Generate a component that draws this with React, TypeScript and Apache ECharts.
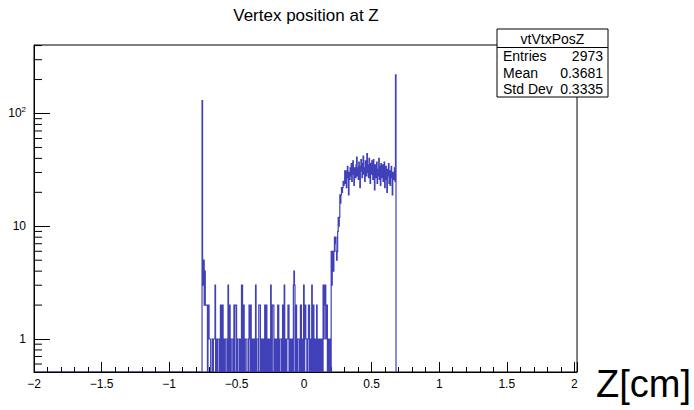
import React, { useEffect, useRef } from 'react';
import * as echarts from 'echarts';

const TITLE = 'Vertex position at Z';
const X_NAME = 'Z[cm]';
const BIN_WIDTH = 0.004;
const FIRST_BIN_LOW = -0.756;
// counts per bin, starting at FIRST_BIN_LOW
const COUNTS = [
  // edge spike and first bins
  130, 5, 3, 5, 2, 4, 2,
  // low region
  2, 2, 2, 0, 2, 2, 1, 1, 1, 0,
  0, 0, 1, 0, 1, 1, 1, 3, 0, 0,
  1, 0, 1, 1, 1, 0, 0, 2, 2, 0,
  2, 2, 0, 1, 0, 0, 1, 1, 1, 0,
  0, 3, 0, 2, 2, 0, 0, 1, 1, 1,
  0, 0, 2, 0, 2, 2, 2, 0, 0, 1,
  1, 1, 0, 0, 1, 0, 3, 3, 0, 2,
  2, 0, 0, 1, 1, 1, 0, 0, 0, 1,
  2, 2, 0, 2, 0, 1, 0, 0, 1, 1,
  0, 0, 3, 0, 1, 1, 1, 0, 2, 2,
  2, 0, 0, 1, 0, 1, 1, 0, 0, 2,
  0, 2, 2, 0, 1, 1, 0, 0, 1, 0,
  3, 0, 0, 2, 2, 2, 0, 1, 1, 0,
  0, 1, 0, 2, 2, 0, 0, 1, 1, 1,
  0, 0, 2, 2, 0, 3, 0, 1, 0, 0,
  1, 1, 2, 2, 0, 0, 1, 0, 1, 1,
  0, 0, 3, 4, 3, 0, 2, 2, 0, 0,
  1, 1, 1, 0, 0, 2, 2, 0, 1, 0,
  0, 3, 0, 2, 2, 1, 1, 0, 0, 1,
  2, 2, 0, 1, 1, 0, 3, 0, 2, 2,
  0, 1, 1, 0, 0, 2, 0,
  // rising edge
  1, 0, 1, 0, 1, 1, 0, 1, 1, 0,
  3, 1, 3, 2, 3, 1, 2, 2, 0, 1,
  0, 1, 0, 1, 0, 6, 3, 5, 6, 4,
  6, 8, 7, 8, 6, 5, 6, 9, 12, 10,
  12, 19, 16, 19, 22, 20, 22, 25, 23, 25,
  31,
  // plateau
  24, 31, 22, 29, 34, 27, 19, 30, 26, 33,
  28, 36, 25, 31, 38, 29, 23, 33, 30, 27,
  35, 41, 28, 33, 26, 37, 30, 22, 34, 39,
  31, 27, 36, 42, 29, 33, 25, 38, 31, 28,
  44, 30, 35, 27, 40, 32, 24, 36, 29, 38,
  33, 26, 39, 30, 21, 35, 31, 27, 37, 24,
  32, 28, 40, 26, 34, 23, 36, 30, 27, 35,
  25, 31, 37, 22, 30, 34, 26, 20, 32, 28,
  36, 24, 31, 23, 29, 34, 27, 19, 30, 26,
  28, 33, 25,
  // end spike
  220,
];
const X_MIN = -2;
const X_MAX = 2.02;
const X_INTERVAL = 0.5;
const Y_MIN = 0.51;
const Y_MAX = 405;
const Y_MINOR = [0.6, 0.7, 0.8, 0.9, 2, 3, 4, 5, 6, 7, 8, 9, 20, 30, 40, 50, 60, 70, 80, 90, 200, 300, 400];
const STATS_TITLE = 'vtVtxPosZ';
const STATS_LABELS = ['Entries', 'Mean', 'Std Dev'];
const STATS_VALUES = ['2973', '0.3681', '0.3335'];

const LINE = '#4040b8';
const FONT = 'Liberation Sans, Arial, Helvetica, sans-serif';

export default function App() {
  const ref = useRef<HTMLDivElement>(null);
  useEffect(() => {
    if (!ref.current) return;
    const chart = echarts.init(ref.current, undefined, { renderer: 'svg' });
    const statsChildren: any[] = [
      { type: 'rect', shape: { x: 497, y: 29, width: 111, height: 68 }, style: { fill: '#fff', stroke: '#000', lineWidth: 1 } },
      { type: 'line', shape: { x1: 497, y1: 47.5, x2: 608, y2: 47.5 }, style: { stroke: '#000', lineWidth: 1 } },
      { type: 'text', x: 552.5, y: 38.5, style: { text: STATS_TITLE, font: `14px ${FONT}`, fill: '#000', textAlign: 'center', textVerticalAlign: 'middle' } },
    ];
    STATS_LABELS.forEach((l, i) => {
      statsChildren.push({ type: 'text', x: 503, y: 56 + i * 16.5, style: { text: l, font: `14px ${FONT}`, fill: '#000', textAlign: 'left', textVerticalAlign: 'middle' } });
      statsChildren.push({ type: 'text', x: 603, y: 56 + i * 16.5, style: { text: STATS_VALUES[i], font: `14px ${FONT}`, fill: '#000', textAlign: 'right', textVerticalAlign: 'middle' } });
    });
    chart.setOption({
      animation: false,
      backgroundColor: '#fff',
      grid: { left: 34, right: 116, top: 45, bottom: 38, show: true, borderColor: '#000', borderWidth: 1, backgroundColor: 'transparent' },
      xAxis: {
        type: 'value', min: X_MIN, max: X_MAX, interval: X_INTERVAL,
        name: X_NAME, nameLocation: 'end', nameGap: 19,
        nameTextStyle: { fontSize: 38, color: '#000', fontFamily: FONT, verticalAlign: 'top', align: 'left', lineHeight: 24 },
        axisLine: { show: true, onZero: false, lineStyle: { color: '#000', width: 1 } },
        axisTick: { show: true, inside: true, length: 10, lineStyle: { color: '#000' } },
        minorTick: { show: true, splitNumber: 5, length: 5, lineStyle: { color: '#000' } },
        splitLine: { show: false },
        axisLabel: {
          color: '#000', fontSize: 12, fontFamily: FONT, margin: 6, showMaxLabel: false,
          formatter: (v: number) => (v > 2.001 ? '' : String(v).replace('-', '\u2212')),
        },
      },
      yAxis: {
        type: 'log', logBase: 10, min: Y_MIN, max: Y_MAX,
        axisLine: { show: true, onZero: false, lineStyle: { color: '#000', width: 1 } },
        axisTick: { show: true, inside: true, length: 16, lineStyle: { color: '#000' } },
        splitLine: { show: false },
        axisLabel: {
          color: '#000', fontSize: 12, fontFamily: FONT, margin: 8, showMinLabel: false, showMaxLabel: false,
          formatter: (v: number) => {
            if (Math.abs(v - 1) < 1e-6) return '{b|1}';
            if (Math.abs(v - 10) < 1e-6) return '{b|10}';
            if (Math.abs(v - 100) < 1e-4) return '{b|10}{s|2}';
            return '';
          },
          rich: {
            b: { fontSize: 12, fontFamily: FONT, color: '#000', lineHeight: 16 },
            s: { fontSize: 8, fontFamily: FONT, color: '#000', lineHeight: 8, verticalAlign: 'top' },
          },
        },
      },
      graphic: [
        { type: 'text', x: 306, y: 15, style: { text: TITLE, font: `17px ${FONT}`, fill: '#000', textAlign: 'center', textVerticalAlign: 'middle' } },
        { type: 'group', children: statsChildren },
      ],
      series: [
        {
          type: 'custom',
          data: [[0]],
          clip: true,
          renderItem: (params: any, api: any) => {
            const pts: number[][] = [];
            const start = api.coord([X_MIN, Y_MIN]);
            pts.push(start);
            COUNTS.forEach((c, i) => {
              const lo = FIRST_BIN_LOW + i * BIN_WIDTH;
              const hi = lo + BIN_WIDTH;
              const yv = c > 0 ? c : Y_MIN;
              const a = api.coord([lo, yv]);
              const b = api.coord([hi, yv]);
              pts.push([a[0], pts[pts.length - 1][1]]);
              pts.push(a);
              pts.push(b);
            });
            const endLo = FIRST_BIN_LOW + COUNTS.length * BIN_WIDTH;
            const e = api.coord([endLo, Y_MIN]);
            pts.push([e[0], pts[pts.length - 1][1]]);
            pts.push(e);
            return { type: 'polyline', shape: { points: pts }, style: { stroke: LINE, lineWidth: 1.2, fill: null } };
          },
        },
        {
          type: 'custom',
          data: Y_MINOR.map((v) => [X_MIN, v]),
          renderItem: (params: any, api: any) => {
            const p = api.coord([api.value(0), api.value(1)]);
            return { type: 'line', shape: { x1: p[0], y1: p[1], x2: p[0] + 8, y2: p[1] }, style: { stroke: '#000', lineWidth: 1 } };
          },
        },
      ],
    });
    return () => chart.dispose();
  }, []);
  return <div ref={ref} style={{ position: 'fixed', left: 0, top: 0, width: 694, height: 410 }} />;
}
